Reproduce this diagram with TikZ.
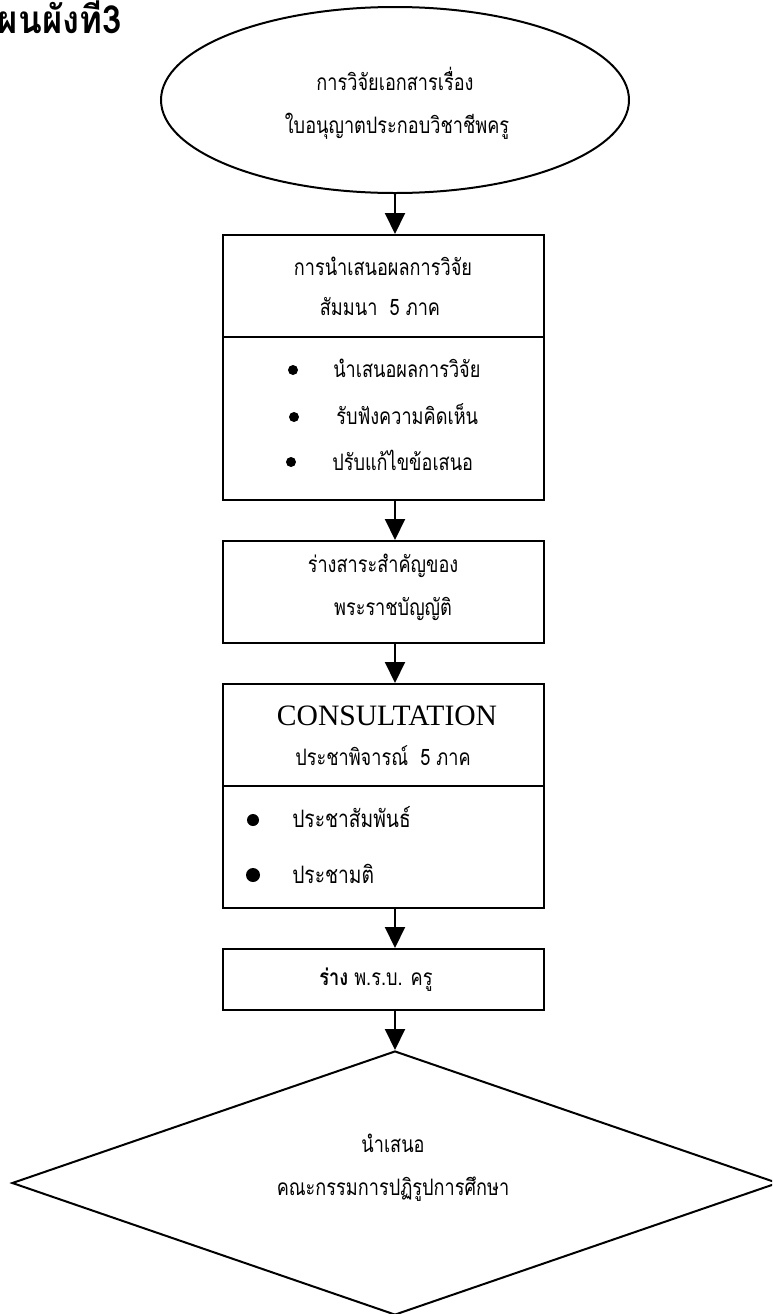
\documentclass[tikz,border=0pt]{standalone}
\usepackage{fontspec}
\setmainfont{Liberation Serif}
\newfontfamily\thai[Script=Thai,FakeStretch=0.8]{Loma}
\newfontfamily\thaititle[Script=Thai,FakeStretch=0.9]{Loma}
\usetikzlibrary{arrows.meta,fit,shapes.geometric}
\begin{document}
\begin{tikzpicture}[x=0.75pt,y=-0.75pt,
  box/.style={draw,line width=1.5pt,inner sep=0pt},
  arr/.style={line width=1.5pt,-{Triangle[width=15pt,length=15.75pt]}},
  th/.style={font=\thai\fontsize{17}{20}\selectfont,inner sep=0pt,anchor=base},
  thl/.style={th,anchor=base west},
  dotsm/.style={circle,fill,inner sep=0pt,minimum size=7.5pt},
  dotlg/.style={circle,fill,inner sep=0pt,minimum size=10.5pt}]
\clip (0,0) rectangle (772,1314);
% title
\node[anchor=base east,inner sep=0pt,font=\thaititle\bfseries\fontsize{29}{32}\selectfont] (title) at (122,33) {แผนผังที่3};
% ellipse
\node[ellipse,draw,line width=1.5pt,minimum width=351pt,minimum height=139.5pt] (e) at (395,100) {};
\node[th] (e1) at (395,90) {การวิจัยเอกสารเรื่อง};
\node[th] (e2) at (397,133) {ใบอนุญาตประกอบวิชาชีพครู};
% box 1
\node[box,fit={(223,235) (544,500)}] (b1) {};
\coordinate (d1) at (383,337);
\draw[line width=1.5pt] (b1.west |- d1) -- (b1.east |- d1);
\node[th] (b1a) at (383,275) {การนำเสนอผลการวิจัย};
\node[th] (b1b) at (380,315) {สัมมนา~~5 ภาค};
\node[dotsm] (p1) at (293,370) {};
\node[dotsm] (p2) at (294,417) {};
\node[dotsm] (p3) at (291,462) {};
\node[thl] (t1) at (333,377) {นำเสนอผลการวิจัย};
\node[thl] (t2) at (336,424) {รับฟังความคิดเห็น};
\node[thl] (t3) at (332,470) {ปรับแก้ไขข้อเสนอ};
% box 2
\node[box,fit={(223,541) (544,643)}] (b2) {};
\node[th] (b2a) at (383,572) {ร่างสาระสำคัญของ};
\node[th] (b2b) at (393,615) {พระราชบัญญัติ};
% box 3
\node[box,fit={(223,684) (544,908)}] (b3) {};
\coordinate (d3) at (383,786);
\draw[line width=1.5pt] (b3.west |- d3) -- (b3.east |- d3);
\node[anchor=base,inner sep=0pt,font=\fontsize{22.2}{26}\selectfont] (b3a) at (387,725) {CONSULTATION};
\node[th] (b3b) at (383,765) {ประชาพิจารณ์~~5 ภาค};
\node[dotsm,minimum size=9pt] (p4) at (253,820) {};
\node[dotlg] (p5) at (253,875) {};
\node[thl,font=\thai\fontsize{18}{21}\selectfont] (t4) at (292,827) {ประชาสัมพันธ์};
\node[thl,font=\thai\fontsize{18}{21}\selectfont] (t5) at (292,883) {ประชามติ};
% box 4
\node[box,fit={(223,949) (544,1010)}] (b4) {};
\node[th] (b4a) at (376,985) {{\bfseries ร่าง} พ.ร.บ. ครู};
% diamond
\node[diamond,draw,line width=1.5pt,inner sep=0pt,minimum width=574.5pt,minimum height=198pt] (d) at (395,1183) {};
\node[th] (da) at (393,1152) {นำเสนอ};
\node[th] (db) at (393,1195) {คณะกรรมการปฏิรูปการศึกษา};
% arrows
\draw[arr] (e.south) -- (b1.north -| e.south);
\draw[arr] (b1.south -| e.south) -- (b2.north -| e.south);
\draw[arr] (b2.south -| e.south) -- (b3.north -| e.south);
\draw[arr] (b3.south -| e.south) -- (b4.north -| e.south);
\draw[arr] (b4.south -| d.north) -- (d.north);
\end{tikzpicture}
\end{document}
